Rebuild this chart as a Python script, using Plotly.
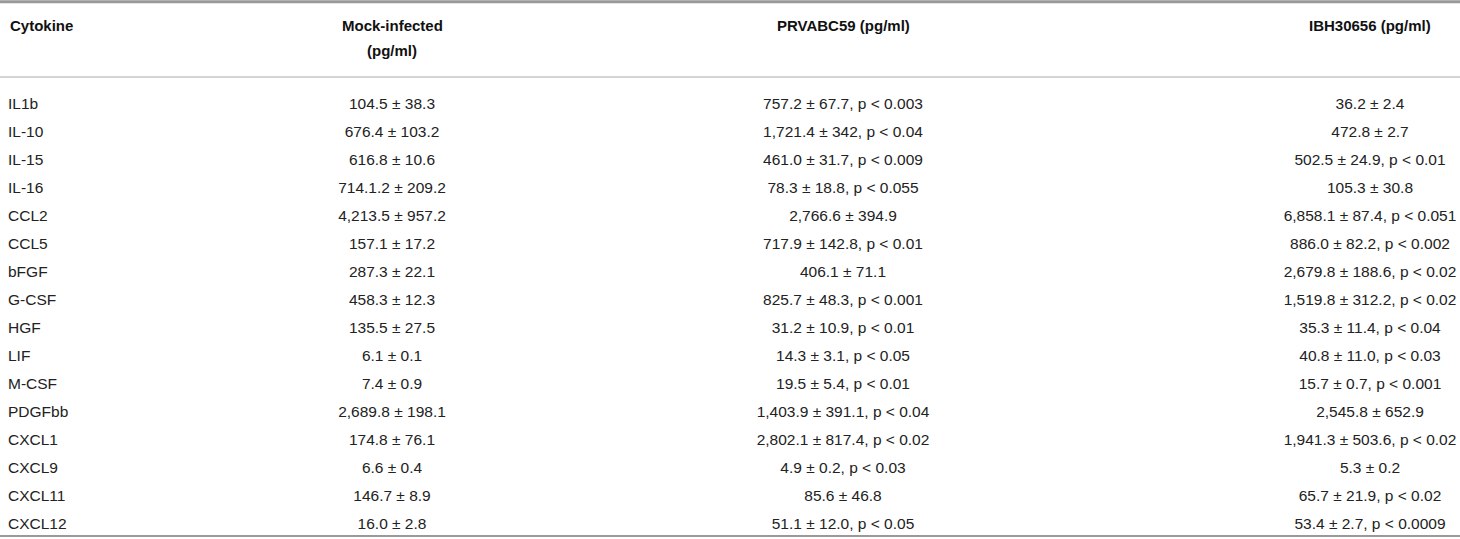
import plotly.graph_objects as go

cytokines = ["IL1b", "IL-10", "IL-15", "IL-16", "CCL2", "CCL5", "bFGF", "G-CSF",
             "HGF", "LIF", "M-CSF", "PDGFbb", "CXCL1", "CXCL9", "CXCL11", "CXCL12"]

mock = ["104.5 ± 38.3", "676.4 ± 103.2", "616.8 ± 10.6", "714.1.2 ± 209.2",
        "4,213.5 ± 957.2", "157.1 ± 17.2", "287.3 ± 22.1", "458.3 ± 12.3",
        "135.5 ± 27.5", "6.1 ± 0.1", "7.4 ± 0.9", "2,689.8 ± 198.1",
        "174.8 ± 76.1", "6.6 ± 0.4", "146.7 ± 8.9", "16.0 ± 2.8"]

prvabc59 = ["757.2 ± 67.7, p < 0.003", "1,721.4 ± 342, p < 0.04", "461.0 ± 31.7, p < 0.009",
            "78.3 ± 18.8, p < 0.055", "2,766.6 ± 394.9", "717.9 ± 142.8, p < 0.01",
            "406.1 ± 71.1", "825.7 ± 48.3, p < 0.001", "31.2 ± 10.9, p < 0.01",
            "14.3 ± 3.1, p < 0.05", "19.5 ± 5.4, p < 0.01", "1,403.9 ± 391.1, p < 0.04",
            "2,802.1 ± 817.4, p < 0.02", "4.9 ± 0.2, p < 0.03", "85.6 ± 46.8",
            "51.1 ± 12.0, p < 0.05"]

ibh30656 = ["36.2 ± 2.4", "472.8 ± 2.7", "502.5 ± 24.9, p < 0.01", "105.3 ± 30.8",
            "6,858.1 ± 87.4, p < 0.051", "886.0 ± 82.2, p < 0.002", "2,679.8 ± 188.6, p < 0.02",
            "1,519.8 ± 312.2, p < 0.02", "35.3 ± 11.4, p < 0.04", "40.8 ± 11.0, p < 0.03",
            "15.7 ± 0.7, p < 0.001", "2,545.8 ± 652.9", "1,941.3 ± 503.6, p < 0.02",
            "5.3 ± 0.2", "65.7 ± 21.9, p < 0.02", "53.4 ± 2.7, p < 0.0009"]

headers = [["Cytokine"], ["Mock-infected", "(pg/ml)"], ["PRVABC59 (pg/ml)"], ["IBH30656 (pg/ml)"]]

font_body = dict(family="Liberation Sans", size=15.5, color="#222")
font_head = dict(family="Liberation Sans", size=15, color="#111")

rows = list(range(len(cytokines)))
columns = [cytokines, mock, prvabc59, ibh30656]
col_x = [8, 392, 843, 1370]
col_pos = ["middle right", "middle center", "middle center", "middle center"]
head_y = [-2.857, -1.93]

fig = go.Figure()
for vals, x, pos in zip(columns, col_x, col_pos):
    fig.add_trace(go.Scatter(
        x=[x] * len(vals), y=rows, text=vals, mode="text",
        textposition=pos, textfont=font_body, hoverinfo="skip", showlegend=False,
    ))

for lines, x, pos in zip(headers, col_x, col_pos):
    for txt, yy in zip(lines, head_y):
        fig.add_annotation(
            x=x, y=yy, text="<b>" + txt + "</b>", showarrow=False,
            xanchor="left" if pos == "middle right" else "center", yanchor="middle",
            font=font_head,
        )

# rules
fig.add_shape(type="line", xref="paper", x0=0, x1=1, y0=-3.69, y1=-3.69,
              line=dict(color="#999", width=3))
fig.add_shape(type="line", xref="paper", x0=0, x1=1, y0=-1.0, y1=-1.0,
              line=dict(color="#aaa", width=1.2))
fig.add_shape(type="line", xref="paper", x0=0, x1=1, y0=15.39, y1=15.39,
              line=dict(color="#999", width=2))

fig.update_layout(
    width=1460, height=539,
    margin=dict(l=0, r=0, t=0, b=0),
    plot_bgcolor="white", paper_bgcolor="white",
    xaxis=dict(range=[0, 1460], visible=False, fixedrange=True),
    yaxis=dict(range=[15.5, -3.75], visible=False, fixedrange=True),
)

fig.write_html("out.html", config={"displayModeBar": False},
               post_script="document.body.style.margin='0';")
